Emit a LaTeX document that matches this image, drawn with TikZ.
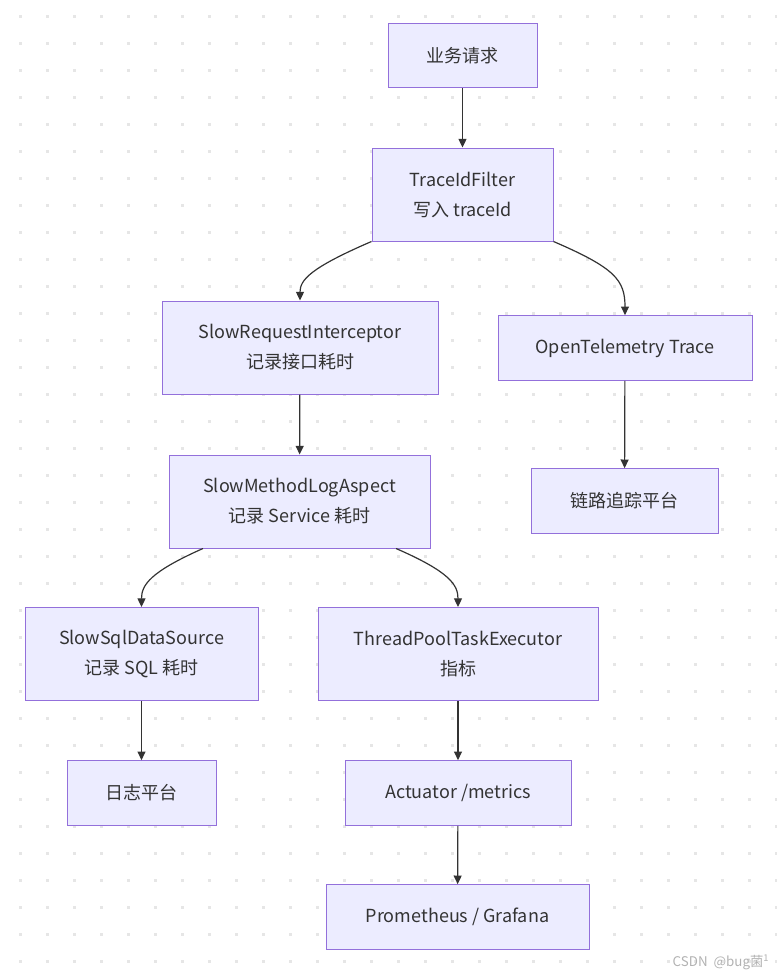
\documentclass[tikz,border=0pt]{standalone}
\usepackage{fontspec}
\setmainfont{Noto Sans CJK SC}
\usetikzlibrary{arrows.meta}
\definecolor{boxfill}{HTML}{ECECFF}
\definecolor{boxline}{HTML}{9370DB}
\definecolor{ink}{HTML}{333333}
\definecolor{griddot}{HTML}{E6E6E6}
\tikzset{
  box/.style={draw=boxline, fill=boxfill, line width=0.75pt, text=ink, align=center,
    inner sep=0pt, font=\fontsize{13.5}{22.5}\selectfont},
  onerow/.style={minimum height=48.5pt},
  tworow/.style={minimum height=69.75pt},
  flow/.style={draw=ink, line width=0.9pt, -{Triangle[length=6.5pt,width=6pt]}},
}
\begin{document}
\begin{tikzpicture}[x=0.75pt,y=-0.75pt]
  \useasboundingbox (0,0) rectangle (777,975);
  % dotted background
  \foreach \i in {0,...,28}
    \foreach \j in {0,...,35}
      \fill[griddot] (20+27*\i-1.5,16+27*\j-1.5) rectangle ++(3,3);

  \node[box,onerow,minimum width=111.75pt] (req) at (462.5,55.5) {业务请求};
  \node[box,tworow,minimum width=135.75pt] (filter) at (462.5,194.5) {TraceIdFilter\\写入 traceId};
  \node[box,tworow,minimum width=207pt] (intercept) at (300,347.5) {SlowRequestInterceptor\\记录接口耗时};
  \node[box,onerow,minimum width=190.5pt] (otel) at (625,348) {OpenTelemetry Trace};
  \node[box,onerow,minimum width=140.25pt] (tracing) at (624.5,501) {链路追踪平台};
  \node[box,tworow,minimum width=195.75pt] (aspect) at (299.5,501.5) {SlowMethodLogAspect\\记录 Service 耗时};
  \node[box,tworow,minimum width=174.75pt] (sqlsrc) at (141.5,654) {SlowSqlDataSource\\记录 SQL 耗时};
  \node[box,tworow,minimum width=210pt] (pool) at (458,654) {ThreadPoolTaskExecutor\\指标};
  \node[box,onerow,minimum width=111.75pt] (logplat) at (141.5,793) {日志平台};
  \node[box,onerow,minimum width=169.5pt] (actuator) at (458,793) {Actuator /metrics};
  \node[box,onerow,minimum width=197.25pt] (prom) at (457.5,917) {Prometheus / Grafana};

  \draw[flow] (req) -- (filter);
  \draw[flow] (filter.south west) .. controls (310,268) and (300,280) .. (intercept.north);
  \draw[flow] (filter.south east) .. controls (615,268) and (625,280) .. (otel.north);
  \draw[flow] (intercept) -- (aspect);
  \draw[flow] (otel) -- (tracing);
  \draw[flow] ([xshift=-72.4pt]aspect.south) .. controls (150,572) and (141.5,585) .. (sqlsrc.north);
  \draw[flow] ([xshift=72.4pt]aspect.south) .. controls (450,572) and (458,585) .. (pool.north);
  \draw[flow] (sqlsrc) -- (logplat);
  \draw[flow] (pool) -- (actuator);
  \draw[flow] (actuator) -- (prom);

  \node[text=black!30, font=\fontsize{10}{11}\selectfont] (mark) at (721,962) {CSDN\ \ @bug菌\textsuperscript{1}};
\end{tikzpicture}
\end{document}
